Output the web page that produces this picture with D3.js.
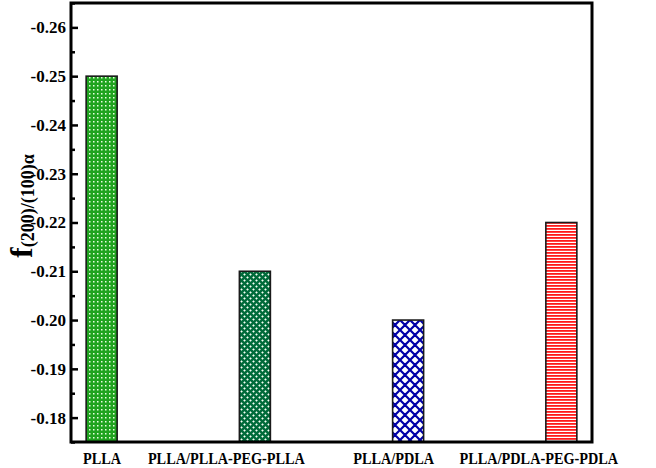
<!DOCTYPE html>
<html><head><meta charset="utf-8">
<script src="https://cdn.jsdelivr.net/npm/d3@7"></script>
<style>body{margin:0;background:#fff}svg{display:block}</style>
</head><body>
<script>
const categories = ["PLLA", "PLLA/PLLA-PEG-PLLA", "PLLA/PDLA", "PLLA/PDLA-PEG-PDLA"];
const values = [-0.250, -0.210, -0.200, -0.220];
const yTicks = [-0.26, -0.25, -0.24, -0.23, -0.22, -0.21, -0.20, -0.19, -0.18];
const yMinor = [-0.265, -0.255, -0.245, -0.235, -0.225, -0.215, -0.205, -0.195, -0.185, -0.175];
const patterns = ["dots", "lattice", "cross", "hlines"];

const W = 656, H = 468;
const L = 71, R = 592, T = 3, B = 442;
const FONT = "'Liberation Serif', 'Times New Roman', serif";
const labelShift = [0, -29, -15, -23];
const svg = d3.select("body").append("svg").attr("width", W).attr("height", H);
const defs = svg.append("defs");

let p = defs.append("pattern").attr("id","dots").attr("patternUnits","userSpaceOnUse").attr("width",4).attr("height",4);
p.append("rect").attr("width",4).attr("height",4).attr("fill","#1fa31f");
p.append("rect").attr("x",1).attr("y",1).attr("width",1.5).attr("height",1.5).attr("fill","#e8ffe0");
p = defs.append("pattern").attr("id","lattice").attr("patternUnits","userSpaceOnUse").attr("width",6).attr("height",6);
p.append("rect").attr("width",6).attr("height",6).attr("fill","#006b3a");
p.append("path").attr("d","M1.5,0.2 L2.8,1.5 L1.5,2.8 L0.2,1.5Z M4.5,3.2 L5.8,4.5 L4.5,5.8 L3.2,4.5Z").attr("fill","#f4fff4");
p = defs.append("pattern").attr("id","cross").attr("patternUnits","userSpaceOnUse").attr("width",10).attr("height",10);
p.append("rect").attr("width",10).attr("height",10).attr("fill","#fff");
p.append("path").attr("d","M0,0 L10,10 M10,0 L0,10 M-5,5 L0,10 M5,-5 L15,5 M-5,5 L5,-5 M5,15 L15,5").attr("stroke","#0000a8").attr("stroke-width",2.2).attr("fill","none");
p = defs.append("pattern").attr("id","hlines").attr("patternUnits","userSpaceOnUse").attr("width",4).attr("height",3);
p.append("rect").attr("width",4).attr("height",3).attr("fill","#fff");
p.append("rect").attr("y",0).attr("width",4).attr("height",1.8).attr("fill","#ff1a1a");

const x = d3.scalePoint().domain(categories).range([L, R]).padding(0.2);
const y = d3.scaleLinear().domain([-0.175, -0.265]).range([B, T]);
const bw = 31;

svg.selectAll("rect.bar").data(categories).enter().append("rect")
  .attr("class","bar")
  .attr("x", d => x(d) - bw/2)
  .attr("width", bw)
  .attr("y", (d,i) => y(values[i]))
  .attr("height", (d,i) => B - y(values[i]))
  .attr("fill", (d,i) => `url(#${patterns[i]})`)
  .attr("stroke","#1a1a1a").attr("stroke-width",1.6);

const ya = svg.append("g").attr("transform",`translate(${L},0)`);
ya.call(d3.axisLeft(y).tickValues(yTicks).tickSize(-7).tickPadding(5).tickFormat(d3.format(".2f")));
ya.select(".domain").remove();
ya.selectAll(".tick line").attr("stroke","#000").attr("stroke-width",2.5);
ya.selectAll(".tick text").attr("font-family",FONT)
  .attr("font-weight","bold").attr("font-size",17).attr("fill","#000")
  .text(d => d3.format(".2f")(d).replace("−","-"));
const ym = svg.append("g").attr("transform",`translate(${L},0)`);
ym.call(d3.axisLeft(y).tickValues(yMinor).tickSize(-4).tickFormat(""));
ym.select(".domain").remove();
ym.selectAll(".tick line").attr("stroke","#000").attr("stroke-width",2.5);

svg.append("rect").attr("x",L).attr("y",T).attr("width",R-L).attr("height",B-T)
  .attr("fill","none").attr("stroke","#000").attr("stroke-width",3);

const xa = svg.append("g").attr("transform",`translate(0,${B})`);
xa.call(d3.axisBottom(x).tickSize(0).tickPadding(10));
xa.select(".domain").remove();
xa.selectAll(".tick text").attr("font-family",FONT)
  .attr("font-weight","bold").attr("font-size",17).attr("fill","#000")
  .attr("transform",(d,i) => `translate(${labelShift[i]},0) scale(0.84,1)`);

const t = svg.append("text").attr("transform","translate(32,206) rotate(-90)")
  .attr("text-anchor","middle")
  .attr("font-family",FONT).attr("font-weight","bold").attr("fill","#000");
t.append("tspan").attr("font-size",31).text("f");
t.append("tspan").attr("font-size",18).attr("dy",2).text("(200)/(100)α");
</script>
</body></html>
